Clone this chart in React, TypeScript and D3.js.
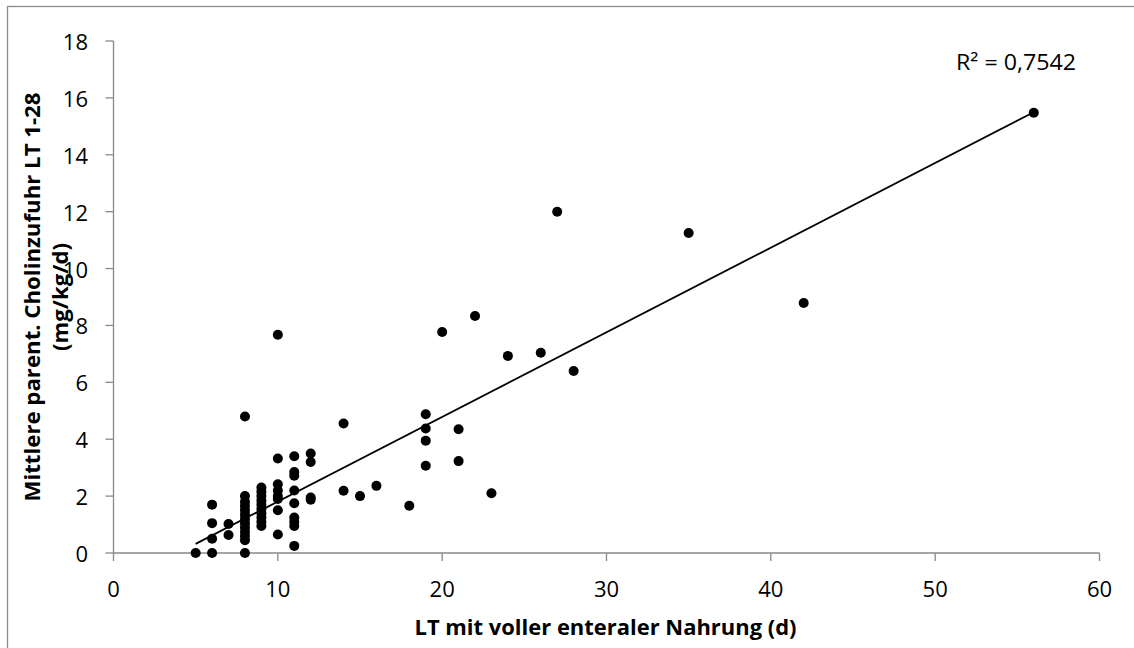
import { useMemo } from 'react'
import { scaleLinear, line } from 'd3'

// Streudiagramm: LT mit voller enteraler Nahrung vs. mittlere parenterale Cholinzufuhr LT 1-28.

const days = [
  5,
  6, 6, 6, 6,
  7, 7,
  8, 8, 8, 8, 8, 8, 8, 8, 8, 8, 8, 8, 8,
  9, 9, 9, 9, 9, 9, 9, 9, 9, 9,
  10, 10, 10, 10, 10, 10, 10, 10,
  11, 11, 11, 11, 11, 11, 11, 11, 11,
  12, 12, 12, 12,
  14, 14, 15, 16, 18,
  19, 19, 19, 19,
  20, 21, 21, 22, 23, 24, 26, 27, 28, 35, 42, 56,
]

const choline = [
  0,
  1.7, 1.05, 0.5, 0,
  1.02, 0.63,
  4.8, 2.0, 1.8, 1.65, 1.5, 1.35, 1.2, 1.05, 0.9, 0.75, 0.6, 0.45, 0,
  2.3, 2.15, 2.0, 1.85, 1.7, 1.55, 1.4, 1.25, 1.1, 0.95,
  7.67, 3.32, 2.42, 2.2, 2.0, 1.9, 1.5, 0.65,
  3.4, 2.85, 2.72, 2.2, 1.75, 1.25, 1.1, 0.95, 0.25,
  3.5, 3.2, 1.95, 1.87,
  4.55, 2.19, 2.0, 2.36, 1.66,
  4.88, 4.38, 3.95, 3.07,
  7.77, 4.35, 3.23, 8.33, 2.1, 6.93, 7.04, 12.0, 6.4, 11.25, 8.79, 15.48,
]

const xTicks = [0, 10, 20, 30, 40, 50, 60]
const yTicks = [0, 2, 4, 6, 8, 10, 12, 14, 16, 18]

// lineare Trendlinie
const trendRange = [5, 56]
const trendSlope = 0.2976
const trendIntercept = -1.168
const rSquaredLabel = 'R² = 0,7542'

const xTitle = 'LT mit voller enteraler Nahrung (d)'
const yTitleLines = ['Mittlere parent. Cholinzufuhr LT 1-28', '(mg/kg/d)']

const W = 1134
const H = 648
const PLOT = { left: 113.5, right: 1099.5, top: 41, bottom: 553 }
const AXIS = '#898989'
const FONT = '"Open Sans", "Liberation Sans", sans-serif'

export default function App() {
  const x = useMemo(() => scaleLinear().domain([0, 60]).range([PLOT.left, PLOT.right]), [])
  const y = useMemo(() => scaleLinear().domain([0, 18]).range([PLOT.bottom, PLOT.top]), [])

  const trendPath =
    line<number>()
      .x((d) => x(d))
      .y((d) => y(trendSlope * d + trendIntercept))(trendRange) ?? ''

  const midY = (PLOT.top + PLOT.bottom) / 2

  return (
    <svg
      width={W}
      height={H}
      viewBox={`0 0 ${W} ${H}`}
      style={{ position: 'absolute', left: 0, top: 0, background: '#fff' }}
      fontFamily={FONT}
    >
      <rect x={7.5} y={6.5} width={W + 20} height={H + 20} fill="#fff" stroke="#8c8c8c" strokeWidth={1.3} />

      {/* Achsen */}
      <line x1={PLOT.left} x2={PLOT.left} y1={PLOT.top} y2={PLOT.bottom} stroke={AXIS} strokeWidth={1.3} />
      <line x1={PLOT.left} x2={PLOT.right} y1={PLOT.bottom} y2={PLOT.bottom} stroke={AXIS} strokeWidth={1.3} />

      {yTicks.map((t) => (
        <g key={`y${t}`}>
          <line x1={PLOT.left - 8} x2={PLOT.left} y1={y(t)} y2={y(t)} stroke={AXIS} strokeWidth={1.3} />
          <text x={88} y={y(t)} textAnchor="end" dominantBaseline="central" fontSize={22} fill="#000">
            {t}
          </text>
        </g>
      ))}
      {xTicks.map((t) => (
        <g key={`x${t}`}>
          <line x1={x(t)} x2={x(t)} y1={PLOT.bottom} y2={PLOT.bottom + 8} stroke={AXIS} strokeWidth={1.3} />
          <text x={x(t)} y={588} textAnchor="middle" dominantBaseline="central" fontSize={22} fill="#000">
            {t}
          </text>
        </g>
      ))}

      {/* Titel */}
      <text
        x={(PLOT.left + PLOT.right) / 2 - 1}
        y={635}
        textAnchor="middle"
        fontSize={22}
        fontWeight="bold"
        textLength={382}
        lengthAdjust="spacingAndGlyphs"
      >
        {xTitle}
      </text>
      <text
        transform={`translate(40, ${midY}) rotate(-90)`}
        textAnchor="middle"
        fontSize={22}
        fontWeight="bold"
        textLength={409}
        lengthAdjust="spacingAndGlyphs"
      >
        {yTitleLines[0]}
      </text>
      <text
        transform={`translate(68, ${midY}) rotate(-90)`}
        textAnchor="middle"
        fontSize={22}
        fontWeight="bold"
        textLength={108}
        lengthAdjust="spacingAndGlyphs"
      >
        {yTitleLines[1]}
      </text>

      {/* Trendlinie */}
      <path d={trendPath} fill="none" stroke="#000" strokeWidth={1.8} />

      {/* Punkte */}
      {days.map((d, i) => (
        <circle key={i} cx={x(d)} cy={y(choline[i])} r={5} fill="#000" />
      ))}

      <text x={956} y={70} fontSize={22} textLength={120} lengthAdjust="spacingAndGlyphs" fill="#000">
        {rSquaredLabel}
      </text>
    </svg>
  )
}
